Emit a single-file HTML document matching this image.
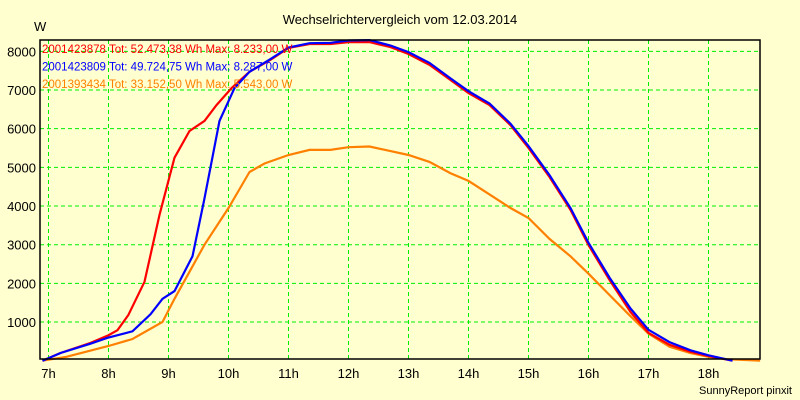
<!DOCTYPE html>
<html><head><meta charset="utf-8"><style>
body{margin:0;background:#ffffd0;}
svg{display:block;font-family:"Liberation Sans",Arial,sans-serif;}
</style></head><body>
<svg id="chart" width="800" height="400">
<rect x="0" y="0" width="800" height="400" fill="#ffffd0"/>
<text x="400" y="24" font-size="13" text-anchor="middle">Wechselrichtervergleich vom 12.03.2014</text>
<text x="34" y="31" font-size="13">W</text>
<g id="grid"></g><g id="series"></g><g id="axes"></g>
<text x="792" y="394" font-size="11" text-anchor="end">SunnyReport pinxit</text>
</svg>
<script>
const hourTicks=[7,8,9,10,11,12,13,14,15,16,17,18];
const valueTicks=[1000,2000,3000,4000,5000,6000,7000,8000];
const seriesNames=["2001423878 Tot: 52.473,38 Wh Max: 8.233,00 W","2001423809 Tot: 49.724,75 Wh Max: 8.287,00 W","2001393434 Tot: 33.152,50 Wh Max: 5.543,00 W"];
const seriesColors=["#ff0000","#0000ff","#ff8000"];
const redHours=[6.9,7.2,7.7,8.0,8.15,8.33,8.6,8.85,9.1,9.35,9.6,9.8,10.05,10.35,10.7,11.0,11.35,11.7,12.0,12.35,12.7,13.0,13.35,13.7,14.0,14.35,14.7,15.0,15.35,15.7,16.0,16.35,16.7,17.0,17.35,17.7,18.0,18.4];
const redValues=[0,200,460,660,790,1180,2040,3770,5250,5940,6200,6610,7050,7470,7780,8090,8190,8190,8240,8240,8110,7930,7650,7260,6920,6610,6090,5500,4750,3900,2990,2090,1260,720,410,230,120,0];
const blueHours=[6.9,7.2,7.7,8.0,8.4,8.7,8.9,9.1,9.4,9.6,9.85,10.1,10.35,10.7,11.0,11.35,11.7,12.0,12.35,12.7,13.0,13.35,13.7,14.0,14.35,14.7,15.0,15.35,15.7,16.0,16.35,16.7,17.0,17.35,17.7,18.0,18.4];
const blueValues=[0,200,440,600,760,1200,1600,1800,2700,4200,6200,7050,7470,7800,8100,8210,8220,8280,8290,8150,7980,7700,7300,6970,6650,6130,5550,4800,3950,3050,2150,1350,800,480,270,140,0];
const orangeHours=[6.9,7.3,8.0,8.4,8.9,9.1,9.35,9.6,10.0,10.35,10.6,11.0,11.35,11.7,12.0,12.35,12.7,13.0,13.35,13.7,14.0,14.35,14.7,15.0,15.35,15.7,16.0,16.35,16.7,17.0,17.35,17.7,18.0,18.3,18.86];
const orangeValues=[0,100,380,560,1000,1600,2300,3000,3950,4880,5100,5320,5450,5450,5520,5540,5420,5320,5140,4850,4650,4300,3950,3690,3150,2700,2250,1700,1150,700,360,200,100,40,0];
const X0=40,Y0=40,X1=760,Y1=359;
function xs(h){return 48.5+60*(h-7);}
function ys(v){return 360.7-v*0.03867;}
const NS="http://www.w3.org/2000/svg";
function mk(tag,attrs,parent){const e=document.createElementNS(NS,tag);for(const k in attrs)e.setAttribute(k,attrs[k]);parent.appendChild(e);return e;}
const grid=document.getElementById('grid'),ser=document.getElementById('series'),ax=document.getElementById('axes');
hourTicks.forEach(h=>{
  const l=mk('line',{x1:xs(h),x2:xs(h),y1:Y0,y2:Y1,stroke:'#00ee00','stroke-dasharray':'4,3'},grid);
  
  
  const t=mk('text',{x:xs(h),y:378,'font-size':13,'text-anchor':'middle'},ax);
  t.textContent=h+'h';
  
  
});
valueTicks.forEach(v=>{
  const l=mk('line',{x1:X0,x2:X1,y1:ys(v),y2:ys(v),stroke:'#00ee00','stroke-dasharray':'4,3'},grid);
  
  
  const t=mk('text',{x:36,y:ys(v)+5,'font-size':13,'text-anchor':'end'},ax);
  t.textContent=v;
  
  
});
const box=mk('rect',{x:X0,y:Y0,width:X1-X0,height:Y1-Y0,fill:'none',stroke:'#000','stroke-width':1.5},ax);


const all=[[orangeHours,orangeValues,2],[redHours,redValues,0],[blueHours,blueValues,1]];
all.forEach(([hs,vs,i])=>{
  let d=hs.map((h,j)=>(j?'L':'M')+xs(h).toFixed(1)+','+ys(vs[j]).toFixed(1)).join(' ');
  if(i===2)d+=' L'+X1+','+ys(0).toFixed(1);
  const p=mk('path',{d:d,fill:'none',stroke:seriesColors[i],'stroke-width':2.2},ser);
  
  
});
seriesNames.forEach((n,i)=>{
  const t=mk('text',{x:42,y:53+i*17.5,'font-size':11.5,fill:seriesColors[i]},ax);
  t.textContent=n;
  
  
});
</script>
</body></html>
